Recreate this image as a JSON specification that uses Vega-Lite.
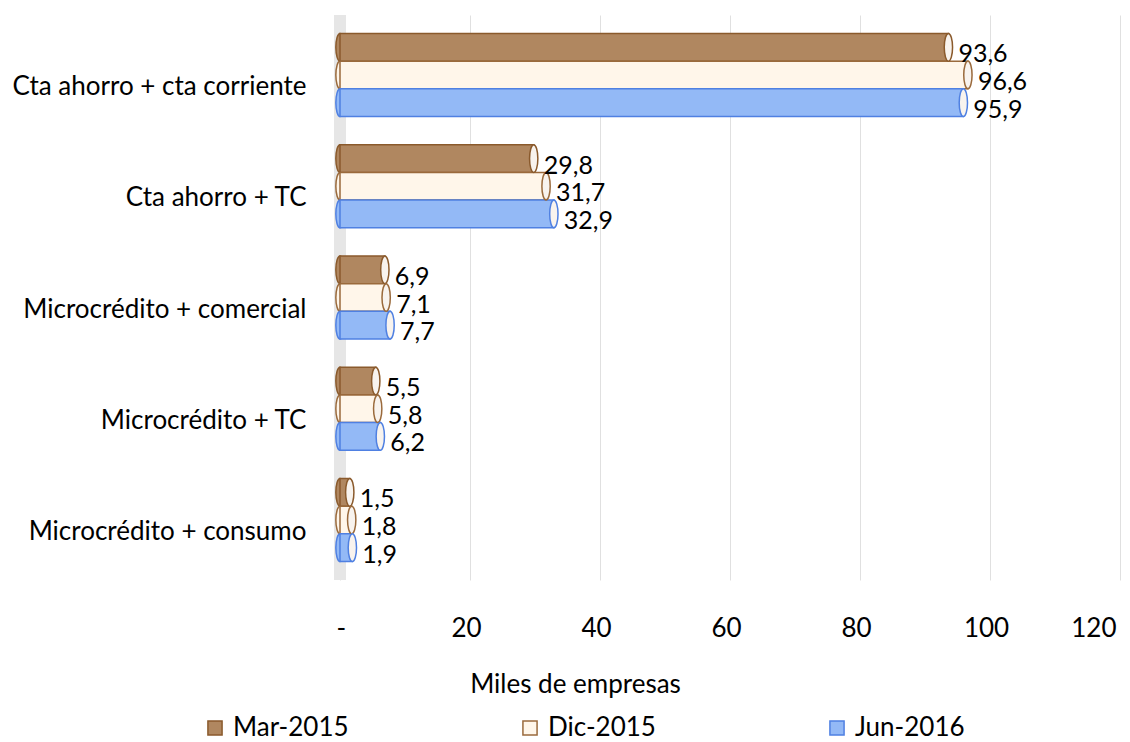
{
  "$schema": "https://vega.github.io/schema/vega-lite/v6.json",
  "width": 780,
  "height": 565,
  "autosize": {"type": "none"},
  "padding": {"left": 340, "top": 15, "right": 10, "bottom": 162},
  "background": "white",
  "data": {
    "values": [
      {"producto": "Cta ahorro + cta corriente", "serie": "Mar-2015", "valor": 93.6},
      {"producto": "Cta ahorro + cta corriente", "serie": "Dic-2015", "valor": 96.6},
      {"producto": "Cta ahorro + cta corriente", "serie": "Jun-2016", "valor": 95.9},
      {"producto": "Cta ahorro + TC", "serie": "Mar-2015", "valor": 29.8},
      {"producto": "Cta ahorro + TC", "serie": "Dic-2015", "valor": 31.7},
      {"producto": "Cta ahorro + TC", "serie": "Jun-2016", "valor": 32.9},
      {"producto": "Microcrédito + comercial", "serie": "Mar-2015", "valor": 6.9},
      {"producto": "Microcrédito + comercial", "serie": "Dic-2015", "valor": 7.1},
      {"producto": "Microcrédito + comercial", "serie": "Jun-2016", "valor": 7.7},
      {"producto": "Microcrédito + TC", "serie": "Mar-2015", "valor": 5.5},
      {"producto": "Microcrédito + TC", "serie": "Dic-2015", "valor": 5.8},
      {"producto": "Microcrédito + TC", "serie": "Jun-2016", "valor": 6.2},
      {"producto": "Microcrédito + consumo", "serie": "Mar-2015", "valor": 1.5},
      {"producto": "Microcrédito + consumo", "serie": "Dic-2015", "valor": 1.8},
      {"producto": "Microcrédito + consumo", "serie": "Jun-2016", "valor": 1.9}
    ]
  },
  "layer": [
    {
      "mark": {"type": "rule", "color": "#e6e6e6", "strokeWidth": 12},
      "encoding": {
        "x": {"datum": 0, "type": "quantitative", "scale": {"domain": [0, 120]}}
      }
    },
    {
      "encoding": {
        "y": {
          "field": "producto", "type": "nominal", "sort": null,
          "scale": {"paddingInner": 0.254, "paddingOuter": 0.166},
          "axis": {
            "title": null, "ticks": false, "domain": false, "grid": false,
            "labelFont": "Lato", "labelFontSize": 26, "labelColor": "#000000",
            "labelPadding": 34, "labelOffset": 12, "labelLimit": 400
          }
        },
        "yOffset": {
          "field": "serie", "type": "nominal",
          "sort": ["Mar-2015", "Dic-2015", "Jun-2016"],
          "scale": {"paddingInner": 0, "paddingOuter": 0}
        },
        "x": {
          "field": "valor", "type": "quantitative",
          "scale": {"domain": [0, 120], "nice": false},
          "axis": {
            "values": [0, 20, 40, 60, 80, 100, 120],
            "labelExpr": "datum.value == 0 ? '-' : datum.label",
            "format": "d",
            "grid": true, "gridColor": "#e0e0e0", "gridWidth": 1,
            "domain": false, "ticks": false,
            "labelFont": "Lato", "labelFontSize": 26, "labelColor": "#000000",
            "labelPadding": 35, "labelOffset": -4,
            "title": "Miles de empresas",
            "titleFont": "Lato", "titleFontSize": 26, "titleFontWeight": "normal", "titleColor": "#000000",
            "titleX": 235, "titleY": 104, "titleAlign": "center", "titleBaseline": "middle"
          }
        }
      },
      "layer": [
        {
          "mark": {
            "type": "point", "filled": true,
            "shape": "M0,-1A0.3,1,0,1,1,0,1A0.3,1,0,1,1,0,-1Z",
            "size": 767, "strokeWidth": 1.5, "opacity": 1
          },
          "encoding": {
            "x": {"datum": 0, "type": "quantitative"},
            "fill": {"field": "serie", "type": "nominal"},
            "stroke": {"field": "serie", "type": "nominal"}
          }
        },
        {
          "mark": {"type": "bar", "strokeWidth": 1.5, "opacity": 1},
          "encoding": {
            "fill": {
              "field": "serie", "type": "nominal",
              "sort": ["Mar-2015", "Dic-2015", "Jun-2016"],
              "scale": {"domain": ["Mar-2015", "Dic-2015", "Jun-2016"], "range": ["#b08760", "#fff6ea", "#93b9f6"]},
              "legend": {
                "title": null, "orient": "none", "legendX": -138, "legendY": 700,
                "direction": "horizontal", "columns": 3, "columnPadding": 168,
                "symbolType": "square", "symbolSize": 200, "symbolStrokeWidth": 1.5,
                "labelFont": "Lato", "labelFontSize": 26, "labelColor": "#000000",
                "labelOffset": 5, "labelLimit": 250
              }
            },
            "stroke": {
              "field": "serie", "type": "nominal",
              "sort": ["Mar-2015", "Dic-2015", "Jun-2016"],
              "scale": {"domain": ["Mar-2015", "Dic-2015", "Jun-2016"], "range": ["#8a5a2c", "#9a6a3c", "#4f80e2"]},
              "legend": {
                "title": null, "orient": "none", "legendX": -138, "legendY": 700,
                "direction": "horizontal", "columns": 3, "columnPadding": 168,
                "symbolType": "square", "symbolSize": 200, "symbolStrokeWidth": 1.5,
                "labelFont": "Lato", "labelFontSize": 26, "labelColor": "#000000",
                "labelOffset": 5, "labelLimit": 250
              }
            }
          }
        },
        {
          "mark": {
            "type": "point", "filled": true,
            "shape": "M0,-1A0.3,1,0,1,1,0,1A0.3,1,0,1,1,0,-1Z",
            "size": 767, "strokeWidth": 1.5, "opacity": 1, "fill": "#f8f3ee"
          },
          "encoding": {
            "stroke": {"field": "serie", "type": "nominal"}
          }
        },
        {
          "mark": {
            "type": "text", "align": "left", "baseline": "middle",
            "dx": 10, "dy": 7, "font": "Lato", "fontSize": 25, "color": "#000000"
          },
          "encoding": {
            "text": {"field": "valor", "type": "quantitative", "format": ".1f"}
          }
        }
      ]
    }
  ],
  "config": {
    "view": {"stroke": null},
    "locale": {
      "number": {"decimal": ",", "thousands": ".", "grouping": [3], "currency": ["", ""]}
    }
  }
}
